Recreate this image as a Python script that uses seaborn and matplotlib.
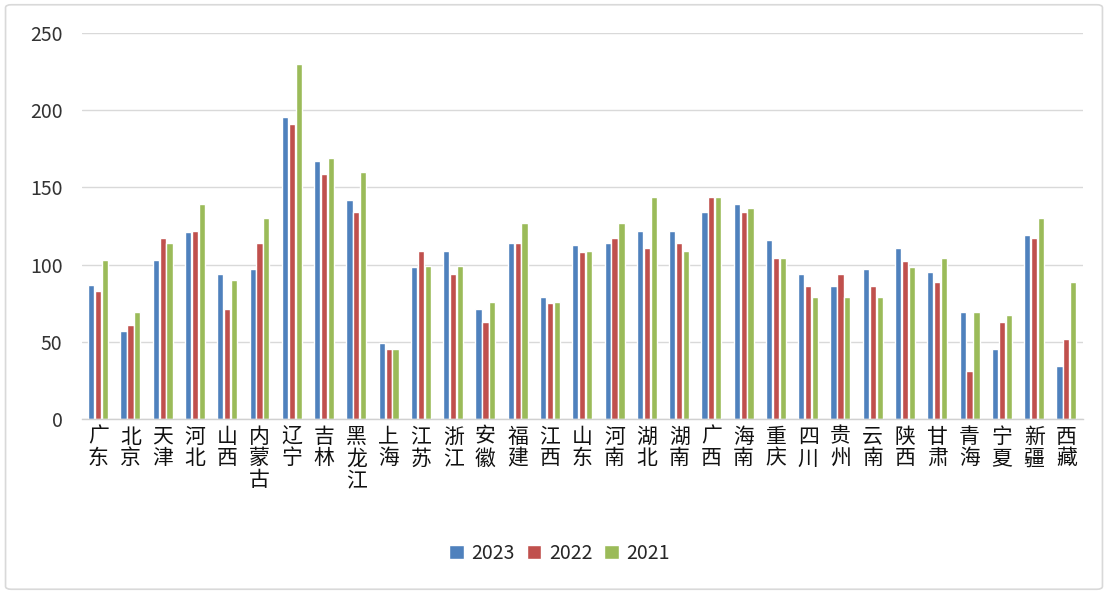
import matplotlib
matplotlib.use("Agg")
import matplotlib.pyplot as plt
import seaborn as sns
import pandas as pd
from matplotlib.patches import FancyBboxPatch

provinces = ["广东", "北京", "天津", "河北", "山西", "内蒙古", "辽宁", "吉林", "黑龙江", "上海",
             "江苏", "浙江", "安徽", "福建", "江西", "山东", "河南", "湖北", "湖南", "广西",
             "海南", "重庆", "四川", "贵州", "云南", "陕西", "甘肃", "青海", "宁夏", "新疆", "西藏"]
v2023 = [87, 57, 103, 121, 94, 97, 196, 167, 142, 49,
         98.5, 109, 71, 114, 79, 113, 114, 122, 122, 134,
         139, 116, 94, 86, 97, 111, 95, 69, 45, 119, 34]
v2022 = [83, 61, 117, 122, 71, 114, 191, 159, 134, 45,
         109, 94, 63, 114, 75, 108, 117, 111, 114, 144,
         134, 104, 86, 94, 86, 102, 89, 31, 63, 117, 52]
v2021 = [103, 69, 114, 139, 90, 130, 230, 169, 160, 45,
         99, 99, 76, 127, 76, 109, 127, 144, 109, 144,
         137, 104, 79, 79, 79, 98.5, 104, 69, 67.5, 130, 89]
years = ["2023", "2022", "2021"]
colors = ["#4F81BD", "#C0504D", "#9BBB59"]

rows = []
for y, vals in zip(years, [v2023, v2022, v2021]):
    for p, v in zip(provinces, vals):
        rows.append({"province": p, "year": y, "value": v})
df = pd.DataFrame(rows)

sns.set_theme(style="white")
plt.rcParams["font.family"] = ["Noto Sans CJK SC", "DejaVu Sans"]

fig = plt.figure(figsize=(11.08, 5.94), dpi=100)
ax = fig.add_axes([0.074, 0.295, 0.903, 0.649])

sns.barplot(data=df, x="province", y="value", hue="year", hue_order=years,
            palette=colors, width=0.64, gap=0.1, saturation=1, ax=ax,
            order=provinces, legend=True)

ax.set_ylim(0, 250)
ax.set_yticks([0, 50, 100, 150, 200, 250])
ax.set_xlim(-0.5, len(provinces) - 0.5)
ax.yaxis.grid(True, color="#D9D9D9", linewidth=1)
ax.set_axisbelow(True)
for s in ["top", "right", "left"]:
    ax.spines[s].set_visible(False)
ax.spines["bottom"].set_color("#D0D0D0")
ax.spines["bottom"].set_linewidth(1)
ax.set_xlabel("")
ax.set_ylabel("")
ax.tick_params(axis="y", length=0, pad=14, labelsize=14, labelcolor="#333333")
ax.tick_params(axis="x", length=0, pad=5)
ax.set_xticks(range(len(provinces)))
ax.set_xticklabels(["\n".join(p) for p in provinces], fontsize=15, linespacing=0.98,
                   va="top", color="#111111")

handles, labels = ax.get_legend_handles_labels()
ax.legend(handles, labels, loc="center", ncol=3,
          frameon=False, fontsize=14, handlelength=0.75, handleheight=0.75,
          handletextpad=0.4, columnspacing=0.6,
          bbox_to_anchor=(0.505, 0.068), bbox_transform=fig.transFigure)

border = FancyBboxPatch((0.005, 0.008), 0.99, 0.984, boxstyle="round,pad=0,rounding_size=0.005",
                        transform=fig.transFigure, fill=False, edgecolor="#D9D9D9", linewidth=1.2)
fig.patches.append(border)

fig.savefig("out.png", dpi=100)
